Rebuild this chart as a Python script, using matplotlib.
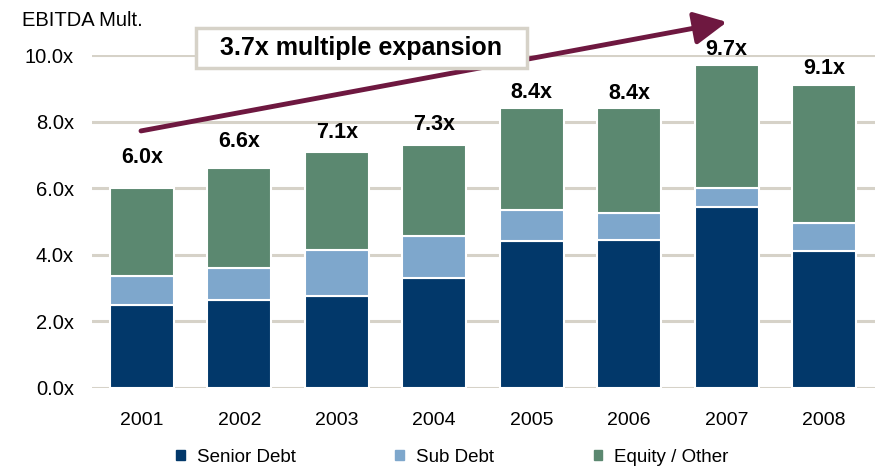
import numpy as np
import matplotlib
matplotlib.use('Agg')
import matplotlib.pyplot as plt
from matplotlib.patches import Patch, Rectangle

plt.rcParams['font.family'] = ['Liberation Sans', 'DejaVu Sans']

# Data: EBITDA multiples by capital source
years = ['2001', '2002', '2003', '2004', '2005', '2006', '2007', '2008']
senior_debt = [2.5, 2.65, 2.75, 3.3, 4.4, 4.45, 5.45, 4.1]
sub_debt = [0.85, 0.95, 1.4, 1.25, 0.95, 0.8, 0.55, 0.85]
total_mult = [6.0, 6.6, 7.1, 7.3, 8.4, 8.4, 9.7, 9.1]
equity_other = [t - s - d for t, s, d in zip(total_mult, senior_debt, sub_debt)]

# how far each total label sits above its bar
label_lift = [0.91, 0.79, 0.56, 0.6, 0.46, 0.44, 0.46, 0.5]

c_senior = '#02386a'
c_sub = '#7ea7cc'
c_equity = '#5b8870'
c_grid = '#d6d2c8'
c_arrow = '#6e1840'

fig = plt.figure(figsize=(8.77, 4.67), dpi=100)
ax = fig.add_axes([0.1049, 0.1692, 0.8928, 0.713])

x = np.arange(len(years))
w = 0.657
senior = np.array(senior_debt)
sub = np.array(sub_debt)
eq = np.array(equity_other)

ax.bar(x, senior, w, color=c_senior, edgecolor='white', linewidth=1.5, zorder=3)
ax.bar(x, sub, w, bottom=senior, color=c_sub, edgecolor='white', linewidth=1.5, zorder=3)
ax.bar(x, eq, w, bottom=senior + sub, color=c_equity, edgecolor='white', linewidth=1.5, zorder=3)

# total labels
for xi, t, lift in zip(x, total_mult, label_lift):
    ax.text(xi, t + lift, f'{t:.1f}x', ha='center', va='center',
            fontsize=15.5, fontweight='bold', clip_on=False, zorder=5)

ax.set_xlim(-0.513, 7.523)
ax.set_ylim(0, 10)
ax.set_yticks(np.arange(0, 10.1, 2))
ax.set_yticklabels([f'{v:.1f}x' for v in np.arange(0, 10.1, 2)], fontsize=14.5)
ax.set_xticks(x)
ax.set_xticklabels(years, fontsize=14)
ax.tick_params(axis='y', length=0, pad=13)
ax.tick_params(axis='x', length=0, pad=17)
ax.yaxis.grid(True, color=c_grid, linewidth=2.2, zorder=0)
ax.set_axisbelow(True)
for sp in ax.spines.values():
    sp.set_visible(False)

# Expansion arrow and callout box
ax.annotate('', xy=(6.004, 10.99), xytext=(-0.01, 7.72),
            arrowprops=dict(arrowstyle='-|>,head_length=1.0,head_width=0.5',
                            mutation_scale=20, color=c_arrow, lw=3.5,
                            shrinkA=0, shrinkB=0),
            annotation_clip=False, zorder=6)
box = Rectangle((0.554, 9.61), 3.95 - 0.554, 10.81 - 9.61, facecolor='white',
                edgecolor=c_grid, linewidth=2.5, clip_on=False, zorder=7)
ax.add_patch(box)
ax.text((0.554 + 3.95) / 2, (9.61 + 10.81) / 2, '3.7x multiple expansion',
        ha='center', va='center', fontsize=18, fontweight='bold', zorder=8)

fig.text(0.025, 1 - 20 / 467, 'EBITDA Mult.', fontsize=14.5, va='center', ha='left')

handles = [Patch(color=c_senior, label='Senior Debt'),
           Patch(color=c_sub, label='Sub Debt'),
           Patch(color=c_equity, label='Equity / Other')]
fig.legend(handles=handles, loc='center', bbox_to_anchor=(0.516, 1 - 457 / 467),
           ncol=3, frameon=False, fontsize=13.5, handlelength=0.45, handleheight=0.45,
           handletextpad=0.66, columnspacing=5.3)

fig.savefig('out.png', dpi=100)
